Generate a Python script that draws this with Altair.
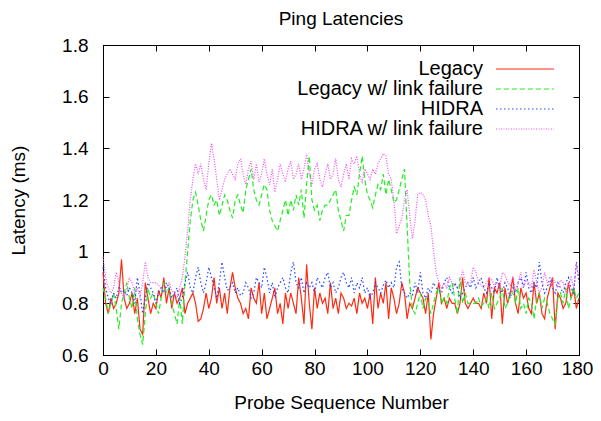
import altair as alt
import pandas as pd

FONT = "Liberation Sans"

chart_title = "Ping Latencies"
probe = list(range(181))

series_names = ["Legacy", "Legacy w/ link failure", "HIDRA", "HIDRA w/ link failure"]

legacy = [
    0.92, 0.80, 0.76, 0.82, 0.78, 0.80, 0.84, 0.97, 0.82, 0.78,
    0.80, 0.84, 0.76, 0.82, 0.70, 0.68, 0.88, 0.82, 0.76, 0.80,
    0.78, 0.85, 0.82, 0.90, 0.80, 0.86, 0.78, 0.84, 0.80, 0.82,
    0.86, 0.76, 0.80, 0.82, 0.84, 0.80, 0.73, 0.74, 0.78, 0.84,
    0.78, 0.82, 0.90, 0.80, 0.86, 0.78, 0.84, 0.76, 0.86, 0.92,
    0.86, 0.82, 0.80, 0.76, 0.78, 0.74, 0.86, 0.82, 0.80, 0.88,
    0.76, 0.84, 0.74, 0.78, 0.82, 0.86, 0.76, 0.80, 0.72, 0.84,
    0.78, 0.84, 0.80, 0.76, 0.90, 0.82, 0.72, 0.95, 0.80, 0.70,
    0.86, 0.78, 0.84, 0.80, 0.82, 0.76, 0.88, 0.78, 0.82, 0.76,
    0.84, 0.82, 0.78, 0.80, 0.79, 0.82, 0.76, 0.84, 0.80, 0.82,
    0.78, 0.84, 0.72, 0.90, 0.78, 0.84, 0.80, 0.88, 0.74, 0.86,
    0.82, 0.76, 0.80, 0.88, 0.84, 0.74, 0.80, 0.78, 0.82, 0.86,
    0.84, 0.82, 0.76, 0.84, 0.66, 0.76, 0.82, 0.88, 0.80, 0.82,
    0.78, 0.82, 0.80, 0.80, 0.76, 0.80, 0.90, 0.80, 0.78, 0.80,
    0.82, 0.80, 0.80, 0.78, 0.84, 0.80, 0.90, 0.74, 0.86, 0.84,
    0.88, 0.72, 0.86, 0.80, 0.84, 0.90, 0.80, 0.76, 0.86, 0.82,
    0.84, 0.78, 0.76, 0.88, 0.80, 0.84, 0.76, 0.74, 0.82, 0.86,
    0.90, 0.70, 0.84, 0.82, 0.78, 0.80, 0.88, 0.82, 0.86, 0.78,
    0.82,
]

legacy_fail = [
    0.86, 0.82, 0.76, 0.80, 0.84, 0.78, 0.70, 0.80, 0.84, 0.88,
    0.82, 0.78, 0.86, 0.74, 0.68, 0.64, 0.76, 0.86, 0.82, 0.84,
    0.80, 0.76, 0.82, 0.88, 0.84, 0.86, 0.80, 0.76, 0.72, 0.82,
    0.72, 0.88, 1.00, 1.12, 1.20, 1.23, 1.18, 1.12, 1.08, 1.14,
    1.20, 1.22, 1.18, 1.20, 1.14, 1.18, 1.22, 1.20, 1.16, 1.13,
    1.20, 1.22, 1.18, 1.15, 1.24, 1.28, 1.32, 1.24, 1.20, 1.18,
    1.22, 1.26, 1.24, 1.16, 1.12, 1.10, 1.08, 1.12, 1.16, 1.20,
    1.14, 1.20, 1.16, 1.22, 1.18, 1.24, 1.13, 1.26, 1.37, 1.20,
    1.16, 1.18, 1.12, 1.16, 1.18, 1.18, 1.20, 1.22, 1.24, 1.16,
    1.12, 1.08, 1.14, 1.14, 1.20, 1.25, 1.22, 1.30, 1.37, 1.28,
    1.22, 1.20, 1.17, 1.22, 1.26, 1.24, 1.30, 1.22, 1.28, 1.24,
    1.19, 1.20, 1.24, 1.28, 1.32, 1.10, 0.88, 0.78, 0.76, 0.80,
    0.84, 0.78, 0.82, 0.80, 0.76, 0.80, 0.84, 0.86, 0.80, 0.82,
    0.80, 0.86, 0.88, 0.82, 0.76, 0.90, 0.80, 0.84, 0.80, 0.80,
    0.80, 0.80, 0.82, 0.79, 0.80, 0.82, 0.78, 0.84, 0.78, 0.80,
    0.82, 0.86, 0.78, 0.80, 0.84, 0.84, 0.80, 0.86, 0.78, 0.80,
    0.76, 0.82, 0.80, 0.74, 0.82, 0.84, 0.78, 0.82, 0.80, 0.76,
    0.74, 0.72, 0.82, 0.84, 0.80, 0.86, 0.78, 0.82, 0.86, 0.82,
    0.84,
]

hidra = [
    0.94, 0.86, 0.82, 0.80, 0.84, 0.82, 0.86, 0.84, 0.85, 0.83,
    0.86, 0.84, 0.80, 0.90, 0.84, 0.76, 0.82, 0.88, 0.86, 0.84,
    0.80, 0.84, 0.86, 0.84, 0.88, 0.86, 0.82, 0.84, 0.86, 0.80,
    0.82, 0.88, 0.92, 0.86, 0.84, 0.90, 0.94, 0.88, 0.84, 0.88,
    0.94, 0.90, 0.86, 0.82, 0.88, 0.96, 0.90, 0.85, 0.86, 0.88,
    0.84, 0.86, 0.83, 0.84, 0.88, 0.86, 0.82, 0.84, 0.90, 0.88,
    0.86, 0.94, 0.90, 0.84, 0.88, 0.82, 0.86, 0.88, 0.90, 0.86,
    0.84, 0.92, 0.96, 0.88, 0.86, 0.90, 0.84, 0.88, 0.86, 0.88,
    0.84, 0.90, 0.88, 0.86, 0.90, 0.92, 0.86, 0.88, 0.84, 0.86,
    0.90, 0.92, 0.88, 0.86, 0.90, 0.84, 0.88, 0.86, 0.90, 0.84,
    0.86, 0.82, 0.84, 0.88, 0.86, 0.84, 0.87, 0.89, 0.86, 0.88,
    0.86, 0.94, 0.96, 0.86, 0.84, 0.82, 0.84, 0.83, 0.88, 0.84,
    0.92, 0.84, 0.82, 0.86, 0.84, 0.88, 0.86, 0.85, 0.84, 0.88,
    0.90, 0.86, 0.84, 0.88, 0.86, 0.82, 0.84, 0.86, 0.88, 0.86,
    0.90, 0.86, 0.88, 0.90, 0.86, 0.84, 0.88, 0.86, 0.84, 0.90,
    0.86, 0.84, 0.88, 0.86, 0.82, 0.86, 0.84, 0.88, 0.90, 0.86,
    0.92, 0.86, 0.84, 0.88, 0.86, 0.96, 0.88, 0.84, 0.86, 0.90,
    0.86, 0.84, 0.88, 0.86, 0.84, 0.88, 0.90, 0.86, 0.84, 0.96,
    0.88,
]

hidra_fail = [
    0.98, 0.90, 0.86, 0.84, 0.86, 0.92, 0.88, 0.84, 0.82, 0.86,
    0.90, 0.88, 0.84, 0.86, 0.82, 0.88, 0.96, 0.90, 0.88, 0.88,
    0.88, 0.87, 0.86, 0.84, 0.86, 0.88, 0.85, 0.84, 0.82, 0.86,
    0.90, 0.98, 1.08, 1.20, 1.28, 1.34, 1.30, 1.34, 1.28, 1.24,
    1.34, 1.42, 1.36, 1.28, 1.20, 1.24, 1.28, 1.30, 1.32, 1.30,
    1.28, 1.34, 1.36, 1.30, 1.26, 1.32, 1.35, 1.28, 1.34, 1.27,
    1.30, 1.36, 1.30, 1.26, 1.32, 1.23, 1.28, 1.34, 1.30, 1.27,
    1.32, 1.35, 1.28, 1.30, 1.34, 1.28, 1.32, 1.38, 1.30, 1.26,
    1.32, 1.34, 1.28, 1.25, 1.30, 1.34, 1.28, 1.30, 1.36, 1.28,
    1.25, 1.30, 1.34, 1.28, 1.36, 1.34, 1.37, 1.30, 1.27, 1.32,
    1.30, 1.28, 1.32, 1.30, 1.34, 1.36, 1.38, 1.37, 1.30, 1.28,
    1.20, 1.07, 1.10, 1.13, 1.20, 1.24, 1.14, 1.05, 1.12, 1.22,
    1.23, 1.22, 1.20, 1.14, 1.10, 1.00, 0.92, 0.88, 0.86, 0.88,
    0.86, 0.90, 0.88, 0.87, 0.86, 0.88, 0.93, 0.88, 0.87, 0.88,
    0.94, 0.92, 0.88, 0.87, 0.86, 0.88, 0.90, 0.89, 0.87, 0.88,
    0.86, 0.92, 0.91, 0.88, 0.87, 0.90, 0.85, 0.88, 0.92, 0.86,
    0.89, 0.88, 0.86, 0.93, 0.88, 0.84, 0.86, 0.92, 0.88, 0.87,
    0.90, 0.88, 0.86, 0.89, 0.88, 0.84, 0.87, 0.90, 0.86, 0.95,
    0.90,
]

x_ticks = [0, 20, 40, 60, 80, 100, 120, 140, 160, 180]
y_ticks = [0.6, 0.8, 1.0, 1.2, 1.4, 1.6, 1.8]

rows = []
for name, vals in zip(series_names, [legacy, legacy_fail, hidra, hidra_fail]):
    for p, v in zip(probe, vals):
        rows.append({"probe": p, "latency": v, "series": name})
df = pd.DataFrame(rows)

xs = alt.Scale(domain=[0, 180], nice=False, zero=False)
ys = alt.Scale(domain=[0.6, 1.8], nice=False, zero=False)

colors = ["#ff2a10", "#22ee22", "#2244ff", "#f050f0"]
dashes = [[1, 0], [5, 3], [1.5, 2.5], [1, 1.5]]

legend = alt.Legend(
    title=None,
    orient="none",
    legendX=291,
    legendY=14,
    padding=0,
    symbolType="M23,0H37.5",
    symbolSize=64,
    symbolStrokeWidth=1.2,
    labelAlign="right",
    labelOffset=69,
    labelFont=FONT,
    labelFontSize=20,
    labelColor="black",
    labelLimit=400,
    rowPadding=0,
)

lines = alt.Chart(df).mark_line(strokeWidth=1.2).encode(
    x=alt.X("probe:Q", scale=xs, axis=alt.Axis(
        orient="bottom", values=x_ticks, offset=-6, tickSize=6, domain=False,
        grid=False, labelPadding=4, labelFlush=False, titlePadding=15,
        labelOffset={"condition": {"test": "datum.value == 180", "value": -2}, "value": 0},
        title="Probe Sequence Number")),
    y=alt.Y("latency:Q", scale=ys, axis=alt.Axis(
        orient="left", values=y_ticks, format="~g", offset=-6, tickSize=6,
        domain=False, grid=False, labelPadding=15, labelFlush=False,
        titlePadding=33, title="Latency (ms)")),
    color=alt.Color("series:N", scale=alt.Scale(domain=series_names, range=colors), legend=legend),
    strokeDash=alt.StrokeDash("series:N", scale=alt.Scale(domain=series_names, range=dashes), legend=legend),
)

tick_axes = alt.Chart(df).mark_point(opacity=0).encode(
    x=alt.X("probe:Q", scale=xs, axis=alt.Axis(
        orient="top", values=x_ticks, offset=-6, tickSize=6, domain=False,
        grid=False, labels=False, title=None)),
    y=alt.Y("latency:Q", scale=ys, axis=alt.Axis(
        orient="right", values=y_ticks, offset=-6, tickSize=6, domain=False,
        grid=False, labels=False, title=None)),
)

frame_a = alt.Chart(df).mark_point(opacity=0).encode(
    x=alt.X("probe:Q", scale=xs, axis=alt.Axis(
        orient="bottom", domain=True, ticks=False, labels=False, grid=False, title=None)),
    y=alt.Y("latency:Q", scale=ys, axis=alt.Axis(
        orient="left", domain=True, ticks=False, labels=False, grid=False, title=None)),
)

frame_b = alt.Chart(df).mark_point(opacity=0).encode(
    x=alt.X("probe:Q", scale=xs, axis=alt.Axis(
        orient="top", domain=True, ticks=False, labels=False, grid=False, title=None)),
    y=alt.Y("latency:Q", scale=ys, axis=alt.Axis(
        orient="right", domain=True, ticks=False, labels=False, grid=False, title=None)),
)

title_mark = alt.Chart(pd.DataFrame({"t": [chart_title]})).mark_text(
    font=FONT, fontSize=19, color="black", align="center", baseline="alphabetic"
).encode(text="t:N", x=alt.value(238), y=alt.value(-20.5))

chart = alt.layer(lines, tick_axes, frame_a, frame_b, title_mark).properties(
    width=476,
    height=310,
    autosize=alt.AutoSizeParams(type="none"),
    padding={"left": 95, "top": 37, "right": 14, "bottom": 58},
).configure_view(
    stroke="black", strokeWidth=1
).configure_axis(
    labelFont=FONT, labelFontSize=19, labelColor="black",
    titleFont=FONT, titleFontSize=19, titleFontWeight="normal", titleColor="black",
    tickColor="black", tickWidth=1, domainColor="black", domainWidth=1,
)

chart.save("out.html", embed_options={"renderer": "svg", "actions": False})
